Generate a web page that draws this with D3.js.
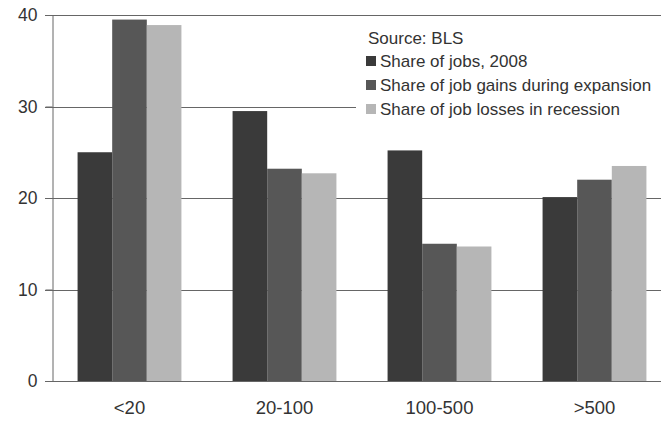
<!DOCTYPE html>
<html>
<head>
<meta charset="utf-8">
<script src="https://cdn.jsdelivr.net/npm/d3@7"></script>
<style>
html,body{margin:0;padding:0;background:#fff;}
svg{display:block;font-family:"Liberation Sans",Arial,sans-serif;}
</style>
</head>
<body>
<svg id="chart" width="661" height="422"></svg>
<script>
const categories = ["<20", "20-100", "100-500", ">500"];
const seriesNames = ["Share of jobs, 2008", "Share of job gains during expansion", "Share of job losses in recession"];
const jobs2008 = [25.0, 29.5, 25.2, 20.1];
const gainsExpansion = [39.5, 23.2, 15.0, 22.0];
const lossesRecession = [38.9, 22.7, 14.7, 23.5];
const yTicks = [0, 10, 20, 30, 40];
const sourceNote = "Source: BLS";
const colors = ["#3a3a3a", "#575757", "#b6b6b6"];

const seriesValues = [jobs2008, gainsExpansion, lossesRecession];
const svg = d3.select("#chart");
const plotLeft = 52, plotRight = 672, plotTop = 15, plotBottom = 381;

const x0 = d3.scaleBand().domain(categories).range([plotLeft, plotRight]).paddingInner(0.33).paddingOuter(0.165);
const x1 = d3.scaleBand().domain(seriesNames).range([0, x0.bandwidth()]).padding(0);
const y = d3.scaleLinear().domain([0, 40]).range([plotBottom, plotTop]);

// gridlines
svg.append("g").selectAll("line").data(yTicks).join("line")
  .attr("x1", plotLeft - 7).attr("x2", 661)
  .attr("y1", d => Math.round(y(d)) + 0.5).attr("y2", d => Math.round(y(d)) + 0.5)
  .attr("stroke", "#666").attr("stroke-width", 1);

// y axis
const yAxis = svg.append("g").attr("transform", `translate(${plotLeft + 0.5},0)`)
  .call(d3.axisLeft(y).tickValues(yTicks).tickSize(7).tickPadding(8));
yAxis.select(".domain").attr("stroke", "#666");
yAxis.selectAll(".tick line").attr("stroke", "#666");
yAxis.selectAll("text").attr("font-size", 17.5).attr("fill", "#333")
  .attr("font-family", "'Liberation Sans',Arial,sans-serif");

// bars
const groups = svg.append("g").selectAll("g").data(categories).join("g")
  .attr("transform", c => `translate(${x0(c)},0)`);
groups.selectAll("rect").data((c, i) => seriesNames.map((s, j) => ({s, j, v: seriesValues[j][i]})))
  .join("rect")
  .attr("x", d => x1(d.s)).attr("width", x1.bandwidth())
  .attr("y", d => y(d.v)).attr("height", d => y(0) - y(d.v))
  .attr("fill", d => colors[d.j]);

// x axis labels
const xAxis = svg.append("g").attr("transform", `translate(0,${plotBottom})`)
  .call(d3.axisBottom(x0).tickSize(0).tickPadding(20));
xAxis.select(".domain").remove();
xAxis.selectAll("text").attr("font-size", 18.5).attr("fill", "#333")
  .attr("font-family", "'Liberation Sans',Arial,sans-serif");

// legend
const lg = svg.append("g");
lg.append("rect").attr("x", 356).attr("y", 24).attr("width", 305).attr("height", 100).attr("fill", "#fff");
lg.append("text").attr("x", 368).attr("y", 44).attr("font-size", 17).attr("fill", "#333").text(sourceNote);
const items = lg.selectAll("g.item").data(seriesNames).join("g").attr("class", "item")
  .attr("transform", (d, i) => `translate(366,${67 + i * 24})`);
items.append("rect").attr("x", 0).attr("y", -11).attr("width", 10).attr("height", 10)
  .attr("fill", (d, i) => colors[i]);
items.append("text").attr("x", 14).attr("y", 0).attr("font-size", 17).attr("fill", "#333").text(d => d);
</script>
</body>
</html>
